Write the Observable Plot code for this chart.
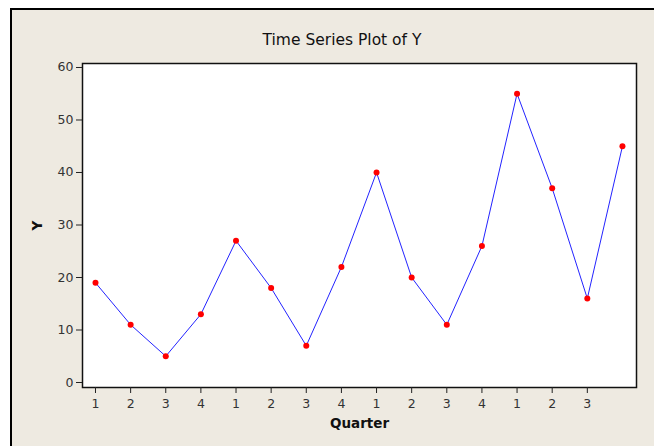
<!DOCTYPE html>
<html>
<head>
<meta charset="utf-8">
<script src="https://cdn.jsdelivr.net/npm/d3@7"></script>
<script src="https://cdn.jsdelivr.net/npm/@observablehq/plot@0.6"></script>
<style>
  html, body { margin: 0; padding: 0; background: #ffffff; }
  #wrap { position: relative; width: 654px; height: 446px; overflow: hidden; }
  #panel { position: absolute; left: 10px; top: 8px; right: 0; bottom: 0;
           background: #EEEAE1; border-left: 2px solid #000; border-top: 2px solid #000; }
  #title { position: absolute; left: 0; width: 684px; top: 31px; text-align: center;
           font-family: "DejaVu Sans", sans-serif; font-size: 15.5px; color: #111; }
  #chart { position: absolute; left: 0; top: 0; }
  #chart svg { background: transparent !important; }
  #chart [aria-label="x-axis label"] text, #chart [aria-label="y-axis label"] text { font-weight: bold; font-size: 13.5px; fill: #111; }
</style>
</head>
<body>
<div id="wrap">
  <div id="panel"></div>
  <div id="title">Time Series Plot of Y</div>
  <div id="chart"></div>
</div>
<script>
// Data
const index = [1, 2, 3, 4, 5, 6, 7, 8, 9, 10, 11, 12, 13, 14, 15, 16];
const values = [19, 11, 5, 13, 27, 18, 7, 22, 40, 20, 11, 26, 55, 37, 16, 45];
const xTicks = [1, 2, 3, 4, 5, 6, 7, 8, 9, 10, 11, 12, 13, 14, 15];
const quarterLabels = ["1", "2", "3", "4", "1", "2", "3", "4", "1", "2", "3", "4", "1", "2", "3"];
const yTicks = [0, 10, 20, 30, 40, 50, 60];

const data = index.map((t, i) => ({t, y: values[i]}));

const chart = Plot.plot({
  width: 654,
  height: 446,
  marginLeft: 82,
  marginRight: 18,
  marginTop: 63,
  marginBottom: 59,
  style: {fontFamily: "DejaVu Sans, sans-serif", fontSize: "12.5px", background: "transparent", color: "#333"},
  x: {domain: [0.63, 16.4]},
  y: {domain: [-0.95, 60.76]},
  marks: [
    Plot.frame({fill: "white", stroke: "#111", strokeWidth: 1.5}),
    Plot.axisY({ticks: yTicks, tickSize: 6, tickPadding: 3, stroke: "#222",
      label: "Y", labelAnchor: "center", labelArrow: "none", labelOffset: 50}),
    Plot.axisX({ticks: xTicks, tickFormat: (d) => quarterLabels[xTicks.indexOf(d)], tickSize: 6, tickPadding: 6, stroke: "#222",
      label: "Quarter", labelAnchor: "center", labelArrow: "none", labelOffset: 40}),
    Plot.line(data, {x: "t", y: "y", stroke: "#2323ff", strokeWidth: 1}),
    Plot.dot(data, {x: "t", y: "y", r: 3, fill: "#ff0000", stroke: "none"})
  ]
});
document.getElementById("chart").appendChild(chart);
</script>
</body>
</html>
